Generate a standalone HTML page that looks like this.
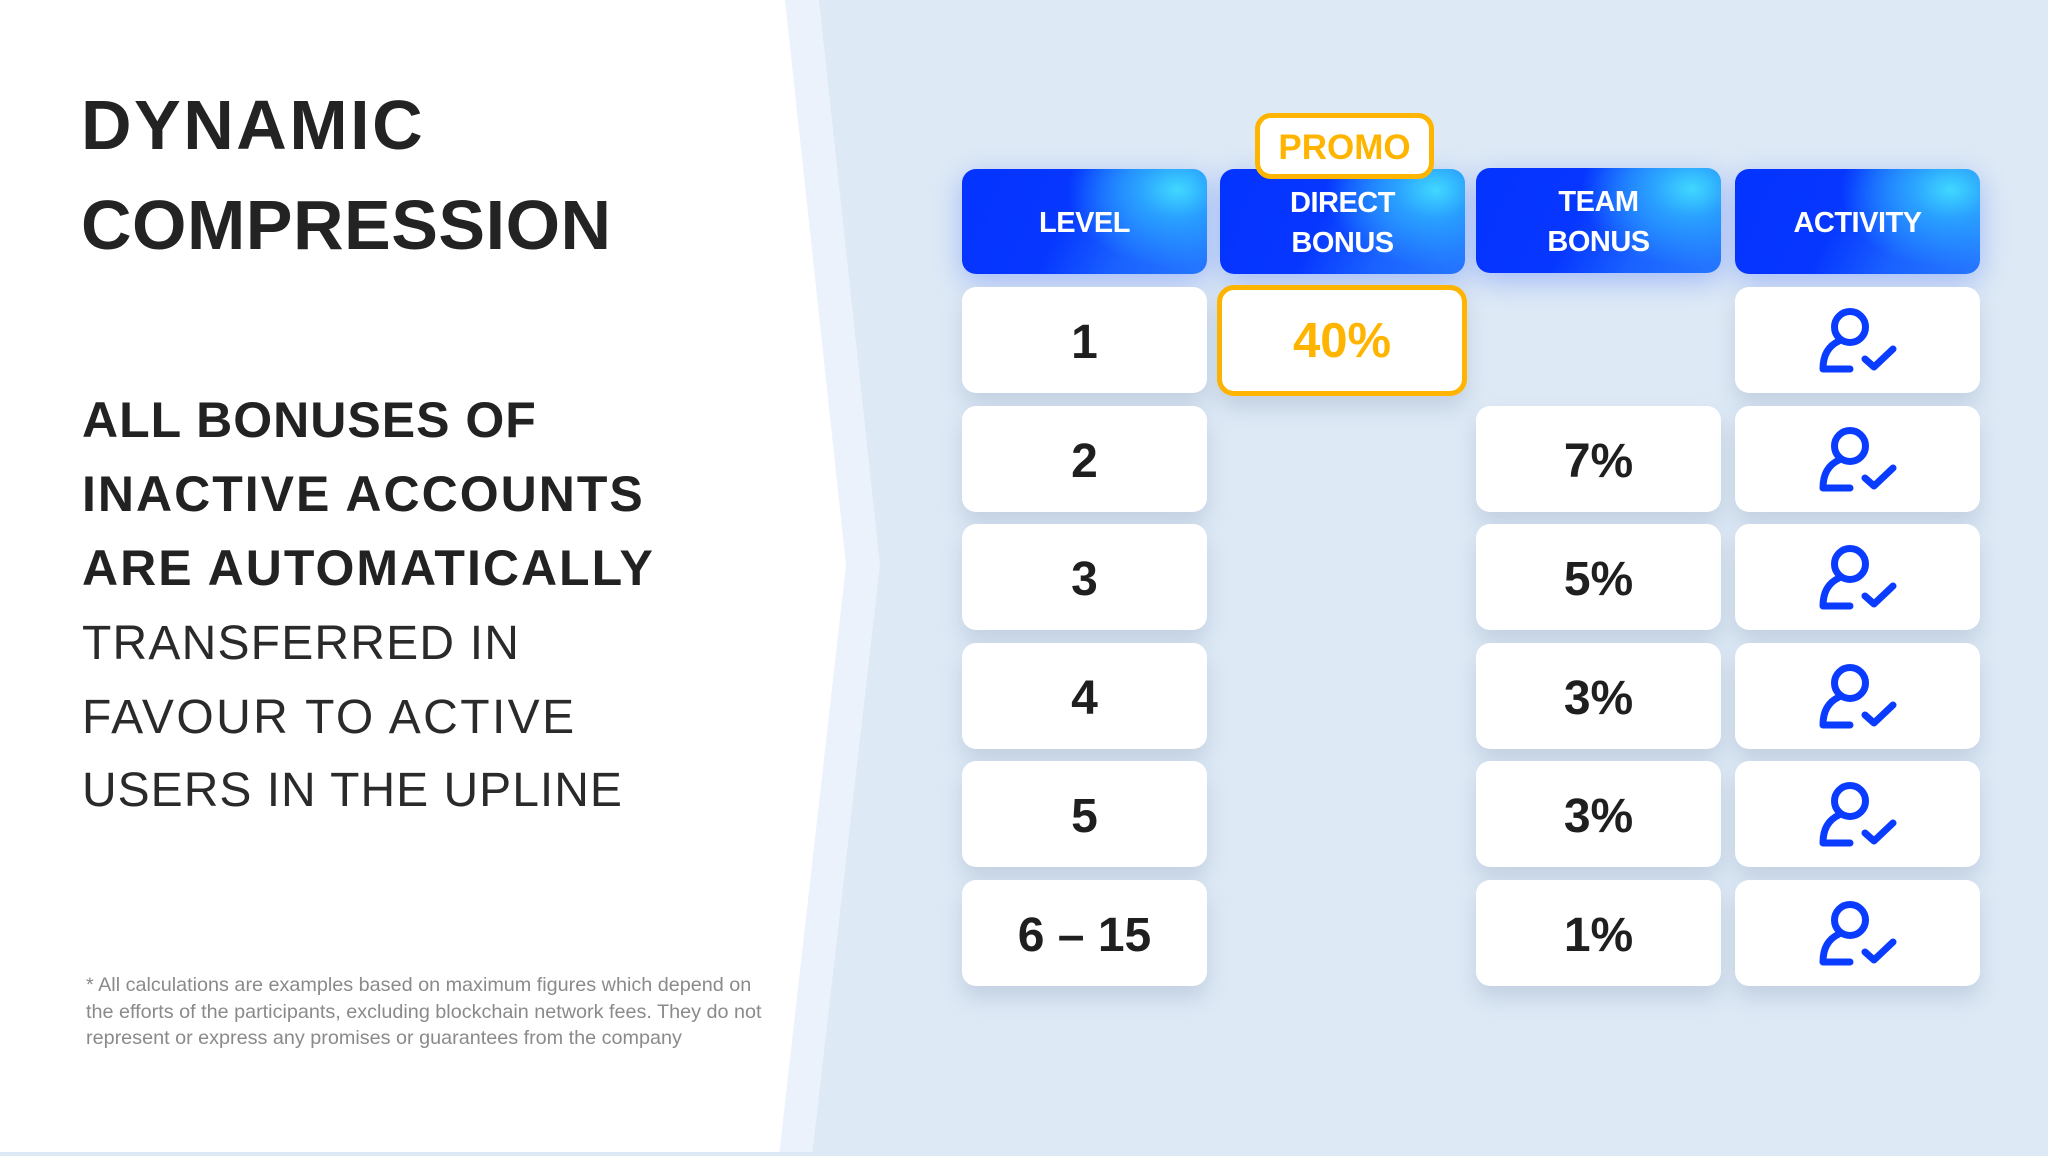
<!DOCTYPE html>
<html>
<head>
<meta charset="utf-8">
<style>
  html,body{margin:0;padding:0;}
  body{width:2048px;height:1156px;overflow:hidden;position:relative;background:#DDE9F5;font-family:"Liberation Sans",Arial,sans-serif;}
  .bg{position:absolute;left:0;top:0;}
  .t{position:absolute;white-space:nowrap;color:#222;}
  .hdr{position:absolute;top:169px;height:105px;width:245px;border-radius:14px;
    background:
      radial-gradient(ellipse 45% 75% at 88% 20%, #40d8ff 0%, #2aa2ff 35%, rgba(30,110,255,0) 100%),
      linear-gradient(115deg, #0433ff 0%, #0637ff 42%, #1a62ff 68%, #2678ff 100%);
    box-shadow:0 8px 28px rgba(40,90,255,0.33);
    color:#fff;font-weight:bold;font-size:29px;letter-spacing:-0.5px;line-height:40px;
    display:flex;align-items:center;justify-content:center;text-align:center;padding-top:2px;box-sizing:border-box;}
  .cell{position:absolute;width:245px;height:106px;background:#fff;border-radius:14px;
    box-shadow:0 12px 20px rgba(100,125,160,0.22);
    display:flex;align-items:center;justify-content:center;box-sizing:border-box;padding-top:6px;
    font-weight:bold;font-size:48px;color:#1f1f1f;line-height:1;}
  .c1{left:962px;} .c3{left:1476px;} .c4{left:1735px;}
  .r1{top:287px;} .r2{top:405.5px;} .r3{top:524px;} .r4{top:642.5px;} .r5{top:761px;} .r6{top:880px;}
  .icon{position:absolute;left:0;top:0;}
  .b{display:block;}
</style>
</head>
<body>
<svg class="bg" width="2048" height="1156" viewBox="0 0 2048 1156">
  <polygon points="0,0 819,0 880,565 812,1156 0,1156" fill="#EBF2FB"/>
  <polygon points="0,0 785,0 846,565 779,1156 0,1156" fill="#FFFFFF"/>
  <rect x="0" y="1152" width="2048" height="4" fill="#DCE8F4"/>
</svg>

<!-- Left text -->
<div class="t" style="left:81px;top:75px;font-size:70px;font-weight:bold;line-height:100px;color:#232323;"><span class="b" style="letter-spacing:2.5px;">DYNAMIC</span><span class="b" style="letter-spacing:0.5px;">COMPRESSION</span></div>

<div class="t" style="left:82px;top:383px;font-size:50px;font-weight:bold;line-height:74px;color:#222;"><span class="b" style="letter-spacing:1px;">ALL BONUSES OF</span><span class="b" style="letter-spacing:2px;">INACTIVE ACCOUNTS</span><span class="b" style="letter-spacing:2px;">ARE AUTOMATICALLY</span></div>

<div class="t" style="left:82px;top:607px;font-size:48px;font-weight:normal;line-height:73.5px;color:#2a2a2a;"><span class="b" style="letter-spacing:1.2px;">TRANSFERRED IN</span><span class="b" style="letter-spacing:2.4px;">FAVOUR TO ACTIVE</span><span class="b" style="letter-spacing:1px;">USERS IN THE UPLINE</span></div>

<div class="t" style="left:86px;top:972px;font-size:19.8px;line-height:26.5px;color:#8a8a8a;">* All calculations are examples based on maximum figures which depend on<br>the efforts of the participants, excluding blockchain network fees. They do not<br>represent or express any promises or guarantees from the company</div>

<!-- Headers -->
<div class="hdr" style="left:962px;">LEVEL</div>
<div class="hdr" style="left:1220px;">DIRECT<br>BONUS</div>
<div class="hdr" style="left:1476px;top:168px;">TEAM<br>BONUS</div>
<div class="hdr" style="left:1735px;">ACTIVITY</div>

<!-- PROMO badge -->
<div style="position:absolute;left:1255px;top:113px;width:179px;height:66px;box-sizing:border-box;border:5px solid #FFB400;border-radius:16px;background:#fff;display:flex;align-items:center;justify-content:center;font-weight:bold;font-size:35px;color:#FFB400;line-height:1;padding-top:3px;z-index:5;">PROMO</div>

<!-- 40% cell -->
<div style="position:absolute;left:1217px;top:285px;width:250px;height:111px;box-sizing:border-box;border:5px solid #FFB400;border-radius:17px;background:#fff;display:flex;align-items:center;justify-content:center;font-weight:bold;font-size:49px;color:#FFB400;line-height:1;padding-top:2px;box-shadow:0 12px 20px rgba(100,125,160,0.22);">40%</div>

<!-- Level column -->
<div class="cell c1 r1">1</div>
<div class="cell c1 r2">2</div>
<div class="cell c1 r3">3</div>
<div class="cell c1 r4">4</div>
<div class="cell c1 r5">5</div>
<div class="cell c1 r6">6 – 15</div>

<!-- Team column -->
<div class="cell c3 r2">7%</div>
<div class="cell c3 r3">5%</div>
<div class="cell c3 r4">3%</div>
<div class="cell c3 r5">3%</div>
<div class="cell c3 r6">1%</div>

<!-- Activity column -->
<div class="cell c4 r1"><svg class="icon" width="245" height="106" viewBox="0 0 245 106"><g fill="none" stroke="#0A3CFF" stroke-width="7" stroke-linecap="round" stroke-linejoin="round"><ellipse cx="115" cy="40" rx="15.5" ry="15.5"/><path d="M104,54 C93,59 88,69 88,82 L115,82"/><path d="M130,72 L139,80 L158,62"/></g></svg></div>
<div class="cell c4 r2"><svg class="icon" width="245" height="106" viewBox="0 0 245 106"><g fill="none" stroke="#0A3CFF" stroke-width="7" stroke-linecap="round" stroke-linejoin="round"><ellipse cx="115" cy="40" rx="15.5" ry="15.5"/><path d="M104,54 C93,59 88,69 88,82 L115,82"/><path d="M130,72 L139,80 L158,62"/></g></svg></div>
<div class="cell c4 r3"><svg class="icon" width="245" height="106" viewBox="0 0 245 106"><g fill="none" stroke="#0A3CFF" stroke-width="7" stroke-linecap="round" stroke-linejoin="round"><ellipse cx="115" cy="40" rx="15.5" ry="15.5"/><path d="M104,54 C93,59 88,69 88,82 L115,82"/><path d="M130,72 L139,80 L158,62"/></g></svg></div>
<div class="cell c4 r4"><svg class="icon" width="245" height="106" viewBox="0 0 245 106"><g fill="none" stroke="#0A3CFF" stroke-width="7" stroke-linecap="round" stroke-linejoin="round"><ellipse cx="115" cy="40" rx="15.5" ry="15.5"/><path d="M104,54 C93,59 88,69 88,82 L115,82"/><path d="M130,72 L139,80 L158,62"/></g></svg></div>
<div class="cell c4 r5"><svg class="icon" width="245" height="106" viewBox="0 0 245 106"><g fill="none" stroke="#0A3CFF" stroke-width="7" stroke-linecap="round" stroke-linejoin="round"><ellipse cx="115" cy="40" rx="15.5" ry="15.5"/><path d="M104,54 C93,59 88,69 88,82 L115,82"/><path d="M130,72 L139,80 L158,62"/></g></svg></div>
<div class="cell c4 r6"><svg class="icon" width="245" height="106" viewBox="0 0 245 106"><g fill="none" stroke="#0A3CFF" stroke-width="7" stroke-linecap="round" stroke-linejoin="round"><ellipse cx="115" cy="40" rx="15.5" ry="15.5"/><path d="M104,54 C93,59 88,69 88,82 L115,82"/><path d="M130,72 L139,80 L158,62"/></g></svg></div>

</body>
</html>
